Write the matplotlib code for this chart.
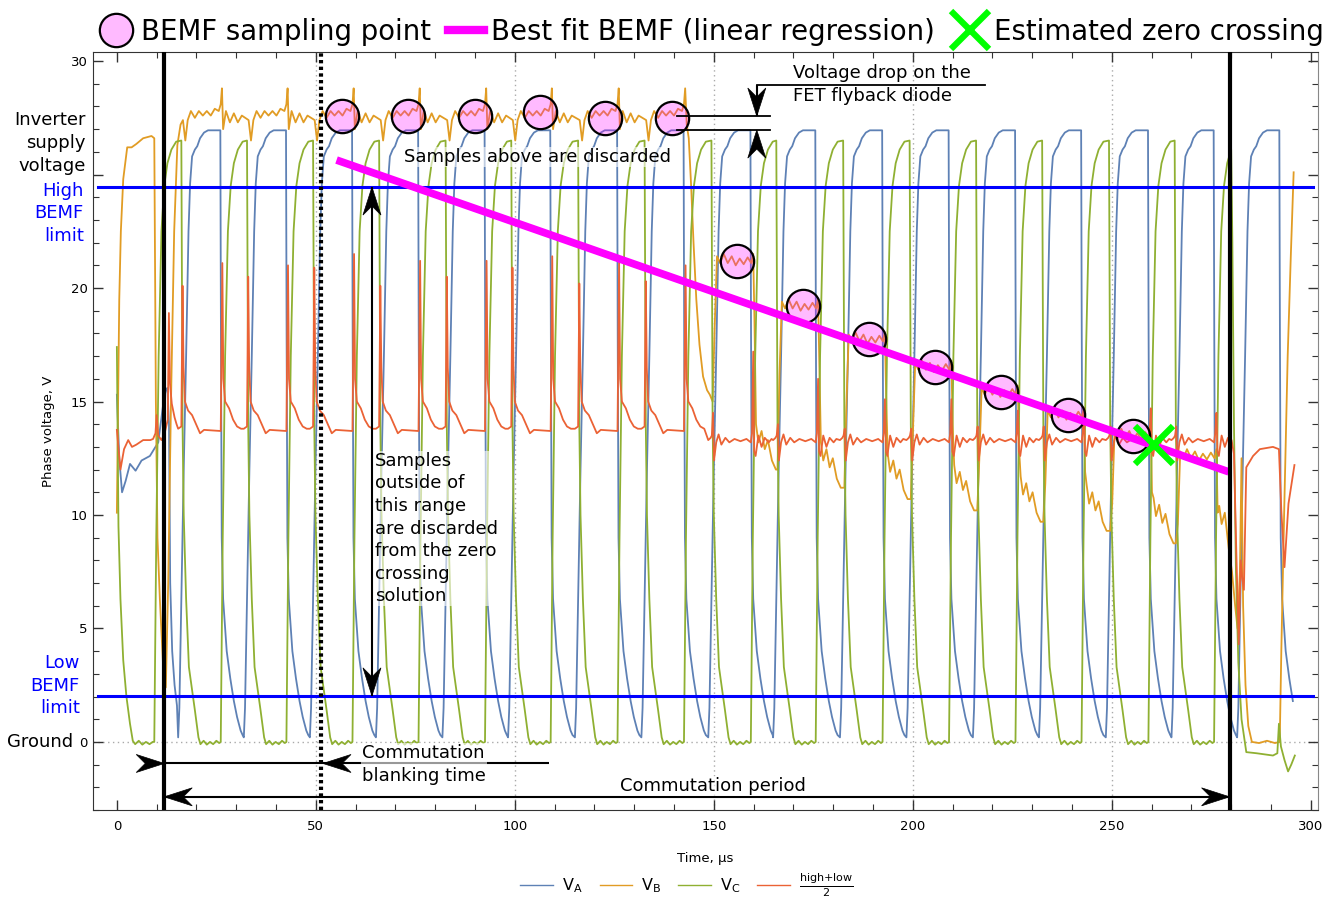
import numpy as np
import matplotlib.pyplot as plt
from matplotlib.lines import Line2D
from matplotlib.patches import Polygon
from matplotlib.ticker import MultipleLocator
from matplotlib.transforms import ScaledTranslation

# ---- trace colours ----
C_A, C_B, C_C, C_N = '#5E81B5', '#E19C24', '#8FB032', '#EB6235'

# PWM periods: times (us) where phase A is at its lowest, just before it turns on
pwm_t = [15.4, 31.9, 48.5, 65.1, 81.8, 98.3, 115.1, 131.8, 148.6,
         164.9, 181.7, 198.4, 215.1, 231.7, 248.5, 265.0, 281.5]

t_comm = [11.9, 279.6]      # commutation instants
t_blank = 51.3              # end of blanking time

# phase A, one PWM period relative to pwm_t
va_dt = [0.0, 0.3, 0.8, 1.4, 2.0, 2.6, 3.0, 3.5, 4.2, 4.8, 5.5, 6.5, 7.5, 10.6,
         10.75, 10.95, 11.3, 12.2, 13.1, 14.0, 14.8, 15.7, 16.2]
va_v = [0.2, 1.5, 6.3, 12.0, 17.0, 22.5, 24.6, 25.8, 26.1, 26.25, 26.6, 26.85,
        26.95, 26.95, 18.0, 9.0, 6.3, 4.0, 2.8, 1.8, 1.1, 0.5, 0.3]
# phase A before it is driven
va_pre_t = [0.0, 0.6, 1.3, 2.2, 3.3, 4.7, 6.2, 8.3, 10.4, 11.8, 12.3, 12.7,
            13.1, 13.4, 13.9, 14.5, 15.1]
va_pre_v = [15.3, 12.5, 11.0, 11.5, 12.25, 11.95, 12.4, 12.6, 13.2, 15.1, 15.5,
            15.6, 14.0, 7.0, 4.0, 2.5, 1.6]

# phase C, one PWM period relative to pwm_t
vc_dt = [0.8, 1.1, 1.4, 2.0, 2.7, 4.2, 5.1, 5.6, 6.4, 7.2, 8.0, 8.8, 9.6, 10.3,
         10.7, 11.2, 11.8, 12.5, 13.2, 14.0, 15.0, 16.2]
vc_v = [26.5, 14.0, 10.0, 6.3, 3.3, 1.4, 0.2, -0.1, 0.05, -0.12, 0.0, -0.1, 0.05,
        -0.05, 0.0, 9.0, 17.0, 22.5, 24.5, 25.5, 26.1, 26.45]
vc_pre_t = [0.0, 0.4, 0.9, 1.6, 2.4, 3.3, 4.0, 4.6, 5.5, 6.4, 7.3, 8.2, 9.0]
vc_pre_v = [17.4, 9.5, 6.3, 3.6, 2.0, 0.8, 0.05, -0.1, 0.05, -0.12, 0.0, -0.1, 0.0]
vc_post_t = [280.3, 280.7, 281.2, 281.8, 282.6, 283.8, 286.4, 288.5, 290.5,
             291.6, 292.0, 292.5, 293.4, 294.3, 295.1, 296.0]
vc_post_v = [22.0, 14.0, 7.5, 3.5, 1.0, -0.45, -0.5, -0.55, -0.6, -0.5, 0.8,
             -0.2, -0.8, -1.3, -1.0, -0.6]

# phase B: driven high, then fall at commutation
vb_pre_t = [0.0, 0.3, 0.6, 1.0, 1.6, 2.6, 3.7, 4.9, 6.6, 8.7, 9.4, 9.8, 10.2,
            10.8, 11.8, 12.3, 12.9, 13.6, 14.4, 15.2, 16.0]
vb_pre_v = [10.1, 15.0, 19.5, 22.5, 24.8, 26.2, 26.2, 26.35, 26.6, 26.7, 26.6,
            15.0, 9.0, 6.3, 2.7, 2.4, 7.0, 15.0, 22.5, 26.3, 27.2]
# phase B clamped by the flyback diode, relative to pwm_t
vb_fly_dt = [1.2, 1.8, 2.4, 3.2, 4.2, 5.2, 6.2, 7.2, 8.2, 9.2, 10.2, 10.7, 11.0,
             11.3, 12.0, 13.0, 14.0, 15.0, 16.0]
vb_fly_v = [27.4, 26.5, 27.4, 27.8, 27.5, 27.8, 27.6, 27.8, 27.6, 27.9, 27.8,
            28.1, 28.8, 27.0, 27.8, 27.3, 27.7, 27.3, 27.6]
vb_tr_t = [143.2, 143.7, 144.3, 144.9, 145.6, 146.4, 147.3, 148.3, 149.0]
vb_tr_v = [27.2, 26.6, 24.5, 22.0, 19.5, 17.5, 16.1, 15.5, 15.3]
# floating phase B: BEMF level while A is on, lower level while C is on
vb_hi = [21.2, 19.2, 17.75, 16.5, 15.4, 14.4, 13.5, 12.6]
vb_lo = [12.0, 11.2, 10.7, 10.2, 9.7, 9.3, 8.75, 8.4]
vb_lo0 = 15.0
vb_bemf = [(1.1, 'p', 0.0), (1.6, 'h', -3.0), (2.2, 'h', 0.2), (3.0, 'h', -0.1),
           (3.9, 'h', 0.3), (4.9, 'h', -0.1), (5.9, 'h', 0.2), (6.9, 'h', -0.2),
           (7.9, 'h', 0.1), (8.9, 'h', -0.15), (9.9, 'h', 0.15), (10.8, 'h', -0.1),
           (11.3, 'h', 0.3), (11.6, 'h', -2.5), (12.0, 'l', 2.0), (12.6, 'l', 1.2),
           (13.4, 'l', 1.7), (14.2, 'l', 0.9), (15.0, 'l', 1.3), (16.0, 'l', 0.4),
           (17.0, 'l', 0.0)]
vb_post_t = [279.4, 280.2, 281.0, 281.6, 282.2, 282.6, 283.0, 283.6, 284.3, 285.2,
             287.0, 289.0, 291.0, 292.2, 292.6, 293.3, 294.2, 295.0, 295.7]
vb_post_v = [8.5, 7.5, 6.0, 5.0, 7.5, 12.5, 6.0, 2.5, 0.7, 0.0, -0.05, 0.05,
             -0.05, 0.0, 4.0, 10.0, 17.0, 21.5, 25.1]

# (high+low)/2
vn_pre_t = [0.0, 0.9, 1.8, 2.85, 3.8, 4.9, 6.6, 8.4, 9.1, 9.7, 10.0, 10.4, 11.2,
            12.0, 12.8, 13.07, 13.35, 13.8, 14.5, 15.0]
vn_pre_v = [13.75, 12.0, 12.9, 13.3, 13.0, 13.1, 13.3, 13.3, 13.35, 13.6, 14.4,
            13.5, 13.3, 13.6, 14.2, 18.9, 15.8, 14.9, 14.3, 14.0]
vn_early_dt = [0.0, 0.8, 1.1, 1.35, 1.7, 2.5, 3.5, 4.5, 5.5, 6.5, 10.7, 11.1,
               11.35, 11.8, 12.8, 13.8, 14.8, 15.8]
vn_early_v = [13.8, 13.9, 0, 16.5, 15.0, 14.6, 14.4, 14.0, 13.6, 13.75, 13.7, 0,
              16.0, 15.0, 14.7, 14.2, 13.9, 13.8]
vn_early_b = [20.1, 20.5, 20.9, 20.1, 20.5, 20.9, 20.2, 20.3]
vn_early_a = [21.1, 21.0, 21.5, 21.2, 21.2, 21.4, 21.2, 21.0]
vn_late_dt = [0.0, 0.6, 0.9, 1.2, 1.45, 2.0, 2.6, 3.3, 4.3, 5.3, 6.6, 8.1, 9.6,
              10.7, 11.0, 11.3, 11.55, 11.9, 12.6, 13.4, 14.2, 15.2, 15.9]
vn_late_v = [13.3, 13.4, 13.5, 0, 12.4, 13.2, 13.55, 13.1, 13.4, 13.2, 13.35,
             13.25, 13.35, 13.2, 13.6, 0, 12.8, 12.6, 13.5, 13.0, 13.4, 13.2, 13.35]
vn_late_b = [14.5, 14.0, 13.8, 13.8, 13.9, 13.9, 13.9, 13.9]
vn_late_a = [17.2, 16.0, 15.1, 15.1, 14.6, 14.7, 14.7, 14.5]
vn_post_t = [279.6, 280.1, 280.7, 281.3, 281.9, 282.4, 282.8, 283.2, 283.8,
             285.5, 287.2, 290.5, 292.0, 292.6, 293.4, 294.4, 295.9]
vn_post_v = [13.3, 13.3, 12.7, 8.3, 4.3, 8.0, 7.2, 6.7, 12.1, 12.6, 12.9, 13.0,
             12.9, 10.2, 7.7, 10.5, 12.2]

# BEMF samples, regression line and its zero crossing
samp_t = [56.5, 73.1, 90.0, 106.3, 122.6, 139.4, 155.8, 172.4, 189.0, 205.5,
          222.1, 238.9, 255.3]
samp_v = [27.6, 27.6, 27.6, 27.75, 27.5, 27.5, 21.2, 19.2, 17.75, 16.5, 15.4,
          14.4, 13.5]
fit_t = [55.2, 279.4]
fit_v = [25.64, 11.9]
zc_t, zc_v = 260.6, 13.08

v_high_lim, v_low_lim = 24.45, 2.03
v_supply, v_diode_top = 26.96, 27.58


def train(starts, dt, v):
    t = np.concatenate([s + np.asarray(dt) for s in starts])
    y = np.concatenate([np.asarray(v, float) for _ in starts])
    return t, y


def spiky_train(starts, dt, v, peaks_b, peaks_a):
    # the two zero entries of the template hold the switching spikes
    idx = [i for i, x in enumerate(v) if x == 0]
    ts, ys = [], []
    for s, pb, pa in zip(starts, peaks_b, peaks_a):
        y = np.array(v, float)
        y[idx[0]], y[idx[1]] = pb, pa
        ts.append(s + np.asarray(dt))
        ys.append(y)
    return np.concatenate(ts), np.concatenate(ys)


def bemf_train(starts, hi, lo, lo0):
    ts, ys = [], []
    prev = lo0
    for s, h, l in zip(starts, hi, lo):
        for dt, ref, off in vb_bemf:
            base = {'p': prev, 'h': h, 'l': l}[ref]
            ts.append(s + dt)
            ys.append(base + off)
        prev = l
    return np.array(ts), np.array(ys)


def window(t, y, t0, t1):
    m = (t >= t0) & (t <= t1)
    return t[m], y[m]


def join(*parts):
    return (np.concatenate([np.asarray(p[0], float) for p in parts]),
            np.concatenate([np.asarray(p[1], float) for p in parts]))


va = join((va_pre_t, va_pre_v),
          window(*train(pwm_t, va_dt, va_v), 15.4, 295.8))
vc = join((vc_pre_t, vc_pre_v),
          window(*train([-1.3] + pwm_t[:-1], vc_dt, vc_v), 9.1, 280.0),
          (vc_post_t, vc_post_v))
vb = join((vb_pre_t, vb_pre_v),
          window(*train(pwm_t[:8], vb_fly_dt, vb_fly_v), 16.4, 142.9),
          (vb_tr_t, vb_tr_v),
          window(*bemf_train(pwm_t[8:16], vb_hi, vb_lo, vb_lo0), 149.5, 279.0),
          (vb_post_t, vb_post_v))
vn = join((vn_pre_t, vn_pre_v),
          window(*spiky_train(pwm_t[:8], vn_early_dt, vn_early_v,
                              vn_early_b, vn_early_a), 15.4, 148.5),
          window(*spiky_train(pwm_t[8:16], vn_late_dt, vn_late_v,
                              vn_late_b, vn_late_a), 148.6, 279.5),
          (vn_post_t, vn_post_v))

fig = plt.figure(figsize=(13.38, 8.97), dpi=100)
ax = fig.add_axes([0.0695, 0.097, 0.9155, 0.845])
ax.set_xlim(-6.0, 301.8)
ax.set_ylim(-3.0, 30.4)

# dotted grid
for g in [50, 100, 150, 200, 250]:
    ax.axvline(g, color='#aaaaaa', lw=1, ls=(0, (1, 2.5)), zorder=1)
ax.axhline(0, color='#aaaaaa', lw=1, ls=(0, (1, 2.5)), zorder=1)

lw = 1.3
ax.plot(*va, color=C_A, lw=lw, zorder=2)
ax.plot(*vb, color=C_B, lw=lw, zorder=2)
ax.plot(*vc, color=C_C, lw=lw, zorder=2)
ax.plot(*vn, color=C_N, lw=lw, zorder=2)

# BEMF window limits
for lv in (v_high_lim, v_low_lim):
    ax.plot([-4.8, 300.5], [lv, lv], color='#0000ff', lw=2.2, zorder=3)

# commutation and blanking markers
for tc in t_comm:
    ax.axvline(tc, color='k', lw=3, zorder=6)
ax.axvline(t_blank, color='k', lw=3, ls=(0, (0.8, 0.8)), zorder=6)

pink = (1.0, 0.0, 1.0, 0.27)
ax.plot(samp_t, samp_v, 'o', ms=24, mfc=pink, mec='k', mew=1.6, zorder=4)
ax.plot(fit_t, fit_v, color='#ff00ff', lw=5.5, solid_capstyle='butt', zorder=5)
ax.plot([zc_t], [zc_v], 'x', ms=27, mec='#00ff00', mew=4.5, zorder=7)


def arrowhead(x, y, angle):
    # swept-back arrowhead, tip at (x, y), size given in inches
    L, w, n = 0.28, 0.09, 0.19
    pts = np.array([(0, 0), (-L, w), (-n, 0), (-L, -w)])
    a = np.deg2rad(angle)
    rot = np.array([[np.cos(a), -np.sin(a)], [np.sin(a), np.cos(a)]])
    tr = fig.dpi_scale_trans + ScaledTranslation(x, y, ax.transData)
    ax.add_patch(Polygon(pts @ rot.T, closed=True, transform=tr, color='k',
                         lw=0.5, zorder=6, clip_on=False))


def seg(x0, x1, y0, y1):
    ax.plot([x0, x1], [y0, y1], color='k', lw=1.5, zorder=6,
            solid_capstyle='butt')


# blanking time
y_bl = -0.95
seg(t_comm[0], 108.5, y_bl, y_bl)
arrowhead(t_comm[0], y_bl, 0)
arrowhead(t_blank + 0.5, y_bl, 180)
# commutation period
seg(t_comm[0], t_comm[1], -2.42, -2.42)
arrowhead(t_comm[0], -2.42, 180)
arrowhead(t_comm[1], -2.42, 0)
# valid BEMF range
seg(64.1, 64.1, v_low_lim, v_high_lim)
arrowhead(64.1, v_high_lim, 90)
arrowhead(64.1, v_low_lim, -90)
# flyback diode drop
for lv in (v_diode_top, v_supply):
    ax.plot([140.7, 164.1], [lv, lv], color='k', lw=1.3, zorder=6)
ax.plot([160.8, 218.1], [28.94, 28.94], color='k', lw=1.3, zorder=6)
seg(160.8, 160.8, 28.94, v_diode_top)
arrowhead(160.8, v_diode_top, -90)
arrowhead(160.8, v_supply, 90)

fs = 13
lsp = 1.33
box = dict(facecolor='white', alpha=0.6, edgecolor='none', pad=0.5)
ax.text(169.9, 28.97, 'Voltage drop on the\nFET flyback diode', fontsize=fs,
        ha='left', va='center', linespacing=lsp, zorder=8)
ax.text(72.1, 25.77, 'Samples above are discarded', fontsize=fs, ha='left',
        va='center', bbox=box, zorder=8)
ax.text(64.8, 9.4, 'Samples\noutside of\nthis range\nare discarded\nfrom the zero\n'
        'crossing\nsolution', fontsize=fs, ha='left', va='center',
        linespacing=lsp, bbox=box, zorder=8)
ax.text(61.6, -0.99, 'Commutation\nblanking time', fontsize=fs, ha='left',
        va='center', linespacing=lsp, bbox=box, zorder=8)
ax.text(149.9, -1.94, 'Commutation period', fontsize=fs, ha='center',
        va='center', bbox=box, zorder=8)

# labels left of the frame
ax.text(-7.8, 26.39, 'Inverter\nsupply\nvoltage', fontsize=fs, ha='right',
        va='center', linespacing=lsp, clip_on=False)
ax.text(-8.3, 23.3, 'High\nBEMF\nlimit', fontsize=fs, ha='right', va='center',
        color='#0000ff', linespacing=lsp, clip_on=False)
ax.text(-9.3, 2.47, 'Low\nBEMF\nlimit', fontsize=fs, ha='right', va='center',
        color='#0000ff', linespacing=lsp, clip_on=False)
ax.text(-11.0, 0.0, 'Ground', fontsize=fs, ha='right', va='center',
        clip_on=False)

# frame and ticks
ax.set_xticks(range(0, 301, 50))
ax.set_yticks(range(0, 31, 5))
ax.set_yticklabels(['0', '5', '10', '15', '20', '', '30'])
ax.xaxis.set_minor_locator(MultipleLocator(10))
ax.yaxis.set_minor_locator(MultipleLocator(1))
ax.tick_params(which='both', direction='in', top=True, right=True,
               labelsize=9.5, color='#333333')
ax.tick_params(which='major', length=7, width=1)
ax.tick_params(which='minor', length=4, width=0.8)
ax.tick_params(axis='x', pad=7)
ax.tick_params(axis='y', pad=4)
for side in ('left', 'bottom', 'top'):
    ax.spines[side].set_color('#333333')
ax.spines['right'].set_color('#888888')
ax.set_xlabel('Time, µs', fontsize=9.5, labelpad=14)
ax.set_ylabel('Phase voltage, V', fontsize=9.5, labelpad=11)

# legend under the plot
h_bot = [Line2D([], [], color=c, lw=1) for c in (C_A, C_B, C_C, C_N)]
fig.legend(h_bot, ['V$_\\mathrm{A}$', 'V$_\\mathrm{B}$', 'V$_\\mathrm{C}$',
                   r'$\frac{\mathrm{high{+}low}}{2}$'],
           loc='center', bbox_to_anchor=(0.5135, 0.013), ncol=4, frameon=False,
           fontsize=11.5, handlelength=2.05, handletextpad=0.56,
           columnspacing=1.06)

# legend above the plot
h_top = [Line2D([], [], ls='none', marker='o', ms=24, mfc=pink, mec='k', mew=1.6),
         Line2D([], [], color='#ff00ff', lw=6),
         Line2D([], [], ls='none', marker='x', ms=27, mec='#00ff00', mew=4.5)]
fig.legend(h_top, ['BEMF sampling point', 'Best fit BEMF (linear regression)',
                   'Estimated zero crossing'],
           loc='center', bbox_to_anchor=(0.5315, 0.9645), ncol=3, frameon=False,
           fontsize=19.8, handlelength=1.3, handletextpad=0.25,
           columnspacing=0.63)

fig.savefig('out.png', dpi=100)
